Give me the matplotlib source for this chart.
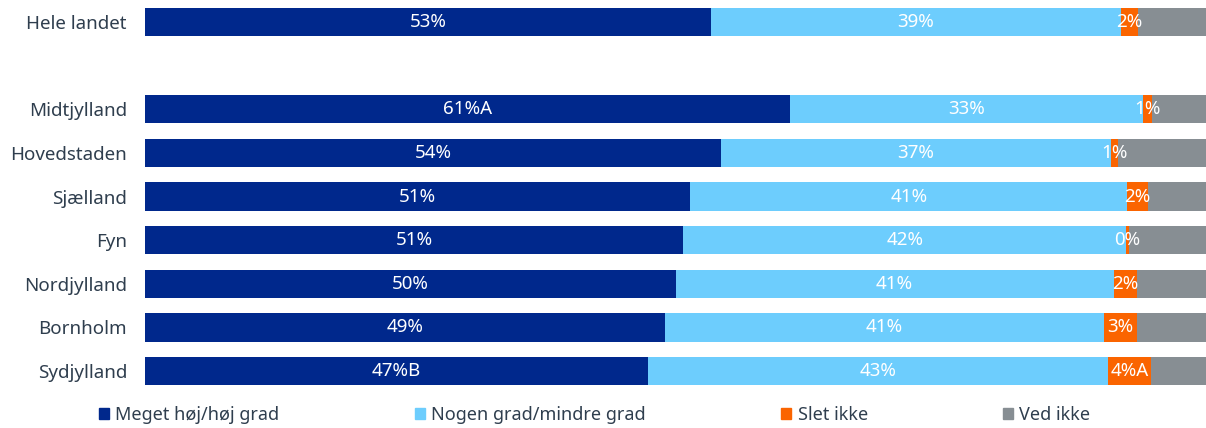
import numpy as np
import matplotlib
matplotlib.use('Agg')
import matplotlib.pyplot as plt
from matplotlib.patches import Patch

# data
regions = ['Hele landet', 'Midtjylland', 'Hovedstaden', 'Sjælland', 'Fyn',
           'Nordjylland', 'Bornholm', 'Sydjylland']
hoej = [53.3, 60.8, 54.3, 51.4, 50.7, 50.0, 49.0, 47.4]
nogen = [38.7, 33.3, 36.7, 41.2, 41.8, 41.3, 41.4, 43.4]
slet = [1.6, 0.8, 0.7, 1.9, 0.2, 2.2, 3.1, 4.0]
vedikke = [6.4, 5.1, 8.3, 5.5, 7.3, 6.5, 6.5, 5.2]
# significance letters after the percentages
sig_hoej = ['', 'A', '', '', '', '', '', 'B']
sig_slet = ['', '', '', '', '', '', '', 'A']

series_names = ['Meget høj/høj grad', 'Nogen grad/mindre grad', 'Slet ikke', 'Ved ikke']
colors = ['#00288C', '#6DCDFD', '#FA6400', '#878E93']
txt_col = '#2F3E4E'

plt.rcParams['font.family'] = ['Noto Sans', 'DejaVu Sans']

fig = plt.figure(figsize=(12.06, 4.28), dpi=100)
ax = fig.add_axes([145 / 1206, 1 - 393 / 428, 1 - 145 / 1206, 393 / 428])

# Hele landet on top, one empty row, then the regions
y = np.array([0] + list(range(2, 2 + len(regions) - 1)))
series = [hoej, nogen, slet, vedikke]
sigs = [sig_hoej, [''] * len(regions), sig_slet, None]

left = np.zeros(len(regions))
for vals, col, name, sg in zip(series, colors, series_names, sigs):
    vals = np.array(vals)
    ax.barh(y, vals, left=left, height=0.65, color=col, label=name)
    if sg is not None:
        for yi, l, v, s in zip(y, left, vals, sg):
            ax.text(l + v / 2, yi, f'{round(v)}%{s}', ha='center', va='center',
                    color='white', fontsize=13.5)
    left = left + vals

ax.set_xlim(0, 100)
ax.set_ylim(8.5, -0.5)
ax.set_yticks(y)
ax.set_yticklabels(regions, fontsize=13.5, color=txt_col)
ax.tick_params(axis='y', length=0, pad=13)
ax.set_xticks([])
for s in ax.spines.values():
    s.set_visible(False)

handles = [Patch(color=c) for c in colors]
fig.legend(handles, series_names, loc='center left', bbox_to_anchor=(92 / 1206, 1 - 415 / 428),
           ncol=4, frameon=False, fontsize=13, handlelength=0.55, handleheight=0.55,
           handletextpad=0.35, columnspacing=7.5, labelcolor=txt_col, borderaxespad=0)

fig.savefig('out.png', dpi=100)
